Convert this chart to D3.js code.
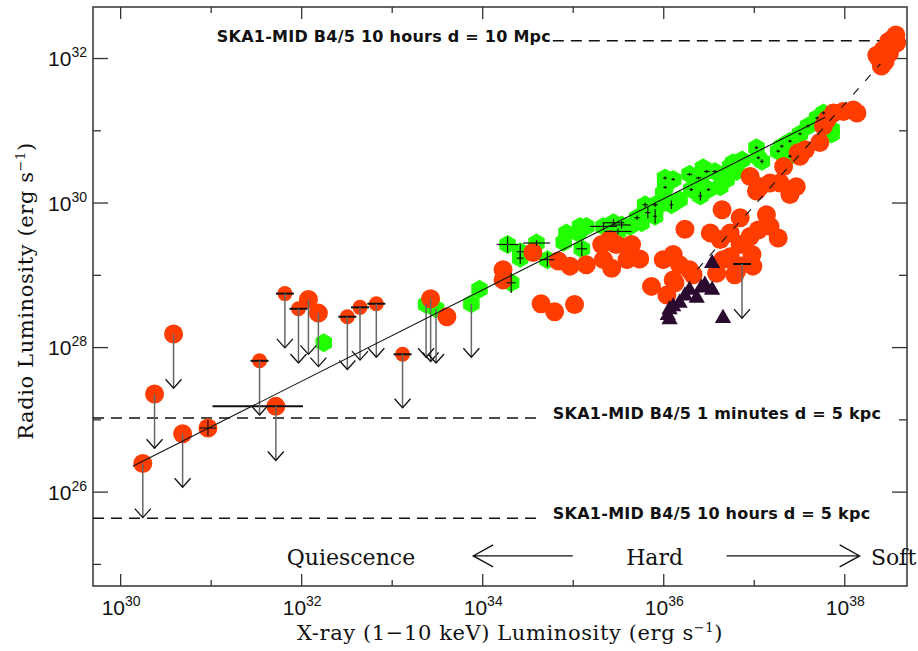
<!DOCTYPE html>
<html>
<head>
<meta charset="UTF-8">
<title>Radio vs X-ray luminosity</title>
<script src="https://cdn.jsdelivr.net/npm/d3@7"></script>
<style>
  body { margin: 0; background: #fff; }
  svg text { font-family: "DejaVu Serif", serif; fill: #111; }
  .ticklab { font-family: "Liberation Sans", Arial, sans-serif; font-size: 21px; }
  .ska { font-family: "DejaVu Sans", sans-serif; font-weight: bold; font-size: 16px; letter-spacing: 0.25px; }
  .title { font-size: 21px; letter-spacing: 0.6px; }
  .axis path { display: none; }
  .axis line { stroke: #333; stroke-width: 1.3; }
</style>
</head>
<body>
<script>
// exponents (log10 of erg/s)
var xMajor = [30, 32, 34, 36, 38], xMinor = [31, 33, 35, 37];
var yMajor = [26, 28, 30, 32], yMinor = [25, 27, 29, 31];

// red circles, detections [logLx, logLr]
var redDetections = [
  [30.97, 26.88], [33.61, 28.42], [34.23, 29.07], [34.23, 28.93], [34.56, 29.31],
  [34.65, 28.60], [34.80, 28.49], [35.02, 28.59], [34.84, 29.19], [34.97, 29.12],
  [35.15, 29.14], [35.32, 29.42], [35.41, 29.49], [35.48, 29.42], [35.60, 29.39],
  [35.65, 29.42], [35.34, 29.21], [35.43, 29.09], [35.60, 29.21], [35.74, 29.22],
  [35.87, 28.84], [36.00, 29.21], [36.04, 28.72], [36.11, 29.28], [36.18, 29.14],
  [36.29, 29.07], [36.33, 29.00], [36.11, 28.93], [36.13, 28.89], [36.24, 29.63],
  [36.52, 29.58], [36.63, 29.49], [36.65, 29.90], [36.74, 29.58], [36.85, 29.79],
  [36.85, 29.42], [36.96, 29.53], [37.05, 29.62], [37.14, 29.83], [37.18, 29.67],
  [37.27, 29.51], [36.98, 29.28], [36.74, 29.25], [36.66, 29.21], [36.99, 29.12],
  [36.81, 29.05], [36.59, 29.02], [36.79, 29.00],
  [36.96, 30.36], [37.07, 30.22], [37.18, 30.27], [37.29, 30.27], [37.03, 30.16],
  [37.33, 30.50], [37.47, 30.22], [37.40, 30.11], [37.51, 30.64], [37.57, 30.73],
  [37.73, 30.83], [37.77, 31.06], [37.81, 31.15], [37.88, 31.24], [37.99, 31.26],
  [38.10, 31.28], [38.14, 31.24], [37.49, 30.69],
  [38.57, 32.32], [38.49, 32.23], [38.43, 32.11], [38.38, 32.00], [38.41, 31.89],
  [38.50, 32.07], [38.58, 32.21], [38.36, 32.04], [38.45, 31.95], [38.54, 32.27]
];
// error bars on red detections [logLx, logLr, xerr, yerr]
var redErrors = [[30.97, 26.88, 0.09, 0.11]];

// red upper limits [logLx, logLr, arrow end]
var redLimits = [
  [30.25, 26.39, 25.64], [30.38, 27.35, 26.60], [30.59, 28.18, 27.43],
  [30.69, 26.80, 26.06], [31.72, 27.18, 26.43], [32.08, 28.66, 27.90],
  [32.19, 28.47, 27.73], [33.43, 28.67, 27.80]
];
// red upper limits drawn with a horizontal bar
var redLimitsBarred = [
  [31.54, 27.81, 27.06], [31.82, 28.74, 27.99], [31.97, 28.53, 27.78],
  [32.51, 28.42, 27.69], [32.65, 28.55, 27.82], [32.83, 28.60, 27.86],
  [33.12, 27.90, 27.16], [36.87, 29.15, 28.40]
];
// x range bar [from, to, logLr]
var redXRange = [[31.02, 32.02, 27.18]];

// green hexagons [logLx, logLr, xerr, yerr]
var greenDetections = [
  [32.25, 28.06, 0, 0], [33.97, 28.80, 0, 0], [34.28, 29.42, 0.12, 0.11],
  [34.42, 29.32, 0.04, 0.11], [34.42, 29.23, 0.04, 0.08], [34.60, 29.44, 0.15, 0.04],
  [34.72, 29.21, 0.08, 0.10], [34.32, 28.89, 0.05, 0.14], [34.90, 29.45, 0, 0],
  [35.06, 29.58, 0, 0], [35.15, 29.67, 0, 0], [35.10, 29.36, 0.06, 0.10],
  [34.93, 29.58, 0, 0], [35.08, 29.67, 0, 0], [35.34, 29.67, 0.15, 0.05],
  [35.45, 29.72, 0.12, 0.05], [35.54, 29.69, 0.10, 0.05], [35.50, 29.60, 0.15, 0.04],
  [35.63, 29.67, 0, 0], [35.76, 29.72, 0, 0], [35.71, 29.79, 0.03, 0.03],
  [35.83, 29.86, 0.03, 0.08], [35.80, 29.97, 0.03, 0.03], [35.91, 29.97, 0.03, 0.03],
  [35.91, 29.81, 0.02, 0.10], [35.98, 29.98, 0, 0], [36.00, 30.13, 0, 0],
  [36.02, 30.34, 0.02, 0.02], [36.11, 30.32, 0.02, 0.02], [36.02, 30.21, 0.02, 0.02],
  [36.09, 29.97, 0.02, 0.06], [36.18, 30.04, 0, 0], [36.29, 30.39, 0.03, 0.02],
  [36.39, 30.34, 0.03, 0.02], [36.48, 30.43, 0.03, 0.02], [36.57, 30.43, 0.03, 0.02],
  [36.31, 30.18, 0.02, 0.02], [36.41, 30.09, 0.02, 0.06], [36.50, 30.18, 0.02, 0.02],
  [36.63, 30.22, 0, 0], [36.70, 30.32, 0, 0], [36.77, 30.55, 0, 0],
  [36.87, 30.59, 0, 0], [36.81, 30.43, 0, 0], [36.44, 30.48, 0, 0],
  [36.44, 30.22, 0, 0], [36.65, 30.32, 0, 0], [36.74, 30.50, 0, 0],
  [37.03, 30.76, 0.02, 0.02], [37.05, 30.62, 0.02, 0.02], [37.09, 30.57, 0.02, 0.03],
  [37.27, 30.71, 0.02, 0.02], [37.31, 30.78, 0.02, 0.02], [37.40, 30.85, 0.02, 0.02],
  [37.40, 30.64, 0.02, 0.02], [37.51, 30.95, 0.02, 0.02], [37.60, 31.06, 0.02, 0.02],
  [37.70, 31.17, 0.02, 0.02], [37.77, 31.24, 0.02, 0.02], [37.86, 31.01, 0, 0],
  [37.86, 30.95, 0, 0]
];
// green upper limits [logLx, logLr, arrow end]
var greenLimits = [[33.38, 28.59, 27.86], [33.49, 28.53, 27.78], [33.88, 28.60, 27.86]];

// dark triangles [logLx, logLr]
var triangles = [
  [36.54, 29.16], [36.29, 28.79], [36.37, 28.68], [36.46, 28.86], [36.54, 28.79],
  [36.18, 28.61], [36.07, 28.52], [36.07, 28.38], [36.05, 28.44], [36.66, 28.40],
  [36.24, 28.71], [36.42, 28.82], [36.11, 28.56]
];

// fitted correlations
var fitStandard = [[30.14, 26.35], [37.79, 31.18]];
var fitSteep = [[36.38, 29.08], [38.40, 31.92]];

// SKA sensitivity levels
var skaLevels = [32.24, 27.02, 25.63];
var skaLabels = ["SKA1-MID B4/5 10 hours d = 10 Mpc", "SKA1-MID B4/5 1 minutes d = 5 kpc", "SKA1-MID B4/5 10 hours d = 5 kpc"];
var skaLineSpan = [[34.78, 38.70], [29.70, 34.66], [29.70, 34.66]];
var skaLabelAt = [34.76, 34.78, 34.78];

// states along the x axis
var stateNames = ["Quiescence", "Hard", "Soft"];
var stateAt = [32.55, 35.905, 38.295];
var stateArrows = [[35.0, 33.90], [36.70, 38.17]];
var stateLevel = 25.11, stateTextLevel = 24.985;

var width = 918, height = 651;
var plotL = 93, plotR = 907, plotT = 7, plotB = 586;
var red = "#ff3d00", green = "#22ff00", purple = "#2b0a30";

var svg = d3.select("body").append("svg")
    .attr("width", width)
    .attr("height", height);

var x = d3.scaleLog().domain([Math.pow(10, 29.70), Math.pow(10, 38.693)]).range([plotL, plotR]);
var y = d3.scaleLog().domain([Math.pow(10, 24.694), Math.pow(10, 32.706)]).range([plotB, plotT]);
function px(e) { return x(Math.pow(10, e)); }
function py(e) { return y(Math.pow(10, e)); }
function p10(e) { return Math.pow(10, e); }

// frame
svg.append("rect").attr("x", plotL).attr("y", plotT)
    .attr("width", plotR - plotL).attr("height", plotB - plotT)
    .attr("fill", "none").attr("stroke", "#333").attr("stroke-width", 1.5);

// ticks on all four sides
function ticks(axis, vals, size, tr) {
    svg.append("g").attr("class", "axis").attr("transform", tr)
        .call(axis.tickValues(vals.map(p10)).tickSize(size).tickFormat(""));
}
ticks(d3.axisBottom(x), xMajor, -12, "translate(0," + plotB + ")");
ticks(d3.axisBottom(x), xMinor, -6, "translate(0," + plotB + ")");
ticks(d3.axisTop(x), xMajor, -12, "translate(0," + plotT + ")");
ticks(d3.axisTop(x), xMinor, -6, "translate(0," + plotT + ")");
ticks(d3.axisLeft(y), yMajor, -15, "translate(" + plotL + ",0)");
ticks(d3.axisLeft(y), yMinor, -8, "translate(" + plotL + ",0)");
ticks(d3.axisRight(y), yMajor, -15, "translate(" + plotR + ",0)");
ticks(d3.axisRight(y), yMinor, -8, "translate(" + plotR + ",0)");

// tick labels 10^n
function powText(sel) {
    sel.text("10").append("tspan").attr("dy", -9).attr("font-size", 14).text(function(d) { return d; });
}
svg.selectAll(".xlab").data(xMajor).enter().append("text")
    .attr("class", "ticklab").attr("text-anchor", "middle")
    .attr("x", function(d) { return px(d) + 1; }).attr("y", 615)
    .call(powText);
svg.selectAll(".ylab").data(yMajor).enter().append("text")
    .attr("class", "ticklab").attr("text-anchor", "end")
    .attr("x", 87).attr("y", function(d) { return py(d) + 8; })
    .call(powText);

// axis titles
var xt = svg.append("text").attr("class", "title").attr("x", 510).attr("y", 640).attr("text-anchor", "middle")
    .text("X-ray (1\u221210 keV) Luminosity (erg s");
xt.append("tspan").attr("dy", -8).attr("font-size", 13).text("\u22121");
xt.append("tspan").attr("dy", 8).text(")");

var yt = svg.append("text").attr("class", "title").attr("transform", "translate(33,291) rotate(-90)")
    .attr("text-anchor", "middle").text("Radio Luminosity (erg s");
yt.append("tspan").attr("dy", -8).attr("font-size", 13).text("\u22121");
yt.append("tspan").attr("dy", 8).text(")");

// SKA levels
skaLevels.forEach(function(lv, i) {
    svg.append("line")
        .attr("x1", px(skaLineSpan[i][0])).attr("x2", Math.min(px(skaLineSpan[i][1]), plotR))
        .attr("y1", py(lv)).attr("y2", py(lv))
        .attr("stroke", "#111").attr("stroke-width", 1.5).attr("stroke-dasharray", "11,7");
    svg.append("text").attr("class", "ska")
        .attr("x", px(skaLabelAt[i])).attr("y", py(lv) + 1)
        .attr("text-anchor", i === 0 ? "end" : "start")
        .text(skaLabels[i]);
});

// states
stateNames.forEach(function(s, i) {
    svg.append("text").attr("font-size", 22)
        .attr("x", px(stateAt[i])).attr("y", py(stateTextLevel))
        .attr("text-anchor", i === 2 ? "start" : "middle").text(s);
});
stateArrows.forEach(function(a) {
    var x0 = px(a[0]), x1 = px(a[1]), yy = py(stateLevel), dir = x1 > x0 ? -1 : 1;
    svg.append("path")
        .attr("d", "M" + x0 + "," + yy + "L" + x1 + "," + yy +
              "M" + (x1 + dir * 20) + "," + (yy - 11) + "L" + x1 + "," + yy + "L" + (x1 + dir * 20) + "," + (yy + 11))
        .attr("fill", "none").attr("stroke", "#111").attr("stroke-width", 1.3);
});

// markers
function hexPath(r) {
    var p = [];
    for (var i = 0; i < 6; i++) {
        var a = Math.PI / 3 * i - Math.PI / 2;
        p.push([r * Math.cos(a), r * Math.sin(a)]);
    }
    return "M" + p.join("L") + "Z";
}

svg.selectAll(".gh").data(greenDetections.concat(greenLimits)).enter().append("path")
    .attr("d", hexPath(9.5))
    .attr("transform", function(d) { return "translate(" + px(d[0]) + "," + py(d[1]) + ")"; })
    .attr("fill", green);

svg.selectAll(".rd").data(redDetections).enter().append("circle")
    .attr("cx", function(d) { return px(d[0]); }).attr("cy", function(d) { return py(d[1]); })
    .attr("r", 9.5).attr("fill", red);
svg.selectAll(".rl").data(redLimits).enter().append("circle")
    .attr("cx", function(d) { return px(d[0]); }).attr("cy", function(d) { return py(d[1]); })
    .attr("r", 9.5).attr("fill", red);
svg.selectAll(".rb").data(redLimitsBarred).enter().append("circle")
    .attr("cx", function(d) { return px(d[0]); }).attr("cy", function(d) { return py(d[1]); })
    .attr("r", 7.5).attr("fill", red);

svg.selectAll(".tr").data(triangles).enter().append("path")
    .attr("d", d3.symbol().type(d3.symbolTriangle).size(115))
    .attr("transform", function(d) { return "translate(" + px(d[0]) + "," + py(d[1]) + ")"; })
    .attr("fill", purple);

// error bars
var errs = greenDetections.filter(function(d) { return d[2] > 0 || d[3] > 0; }).concat(redErrors);
var eg = svg.append("g").attr("stroke", "#111").attr("stroke-width", 1.2);
errs.forEach(function(d) {
    eg.append("line").attr("x1", px(d[0] - d[2])).attr("x2", px(d[0] + d[2]))
        .attr("y1", py(d[1])).attr("y2", py(d[1]));
    eg.append("line").attr("x1", px(d[0])).attr("x2", px(d[0]))
        .attr("y1", py(d[1] - d[3])).attr("y2", py(d[1] + d[3]));
});
redXRange.forEach(function(d) {
    eg.append("line").attr("x1", px(d[0])).attr("x2", px(d[1]))
        .attr("y1", py(d[2])).attr("y2", py(d[2])).attr("stroke-width", 2);
});
redLimitsBarred.forEach(function(d) {
    eg.append("line").attr("x1", px(d[0]) - 9).attr("x2", px(d[0]) + 9)
        .attr("y1", py(d[1])).attr("y2", py(d[1])).attr("stroke-width", 2);
});

// upper limit arrows
var lg = svg.append("g").attr("fill", "none");
redLimits.concat(redLimitsBarred, greenLimits).forEach(function(d) {
    var xx = px(d[0]), y0 = py(d[1]), y1 = py(d[2]);
    lg.append("line").attr("x1", xx).attr("x2", xx).attr("y1", y0).attr("y2", y1)
        .attr("stroke", "#666").attr("stroke-width", 1.5);
    lg.append("path").attr("d", "M" + (xx - 8) + "," + (y1 - 9) + "L" + xx + "," + y1 + "L" + (xx + 8) + "," + (y1 - 9))
        .attr("stroke", "#111").attr("stroke-width", 1.3);
});

// fitted lines
var line = d3.line().x(function(d) { return px(d[0]); }).y(function(d) { return py(d[1]); });
svg.append("path").attr("d", line(fitStandard)).attr("fill", "none")
    .attr("stroke", "#111").attr("stroke-width", 1.1);
svg.append("path").attr("d", line(fitSteep)).attr("fill", "none")
    .attr("stroke", "#111").attr("stroke-width", 1.1).attr("stroke-dasharray", "8,10");
</script>
</body>
</html>
